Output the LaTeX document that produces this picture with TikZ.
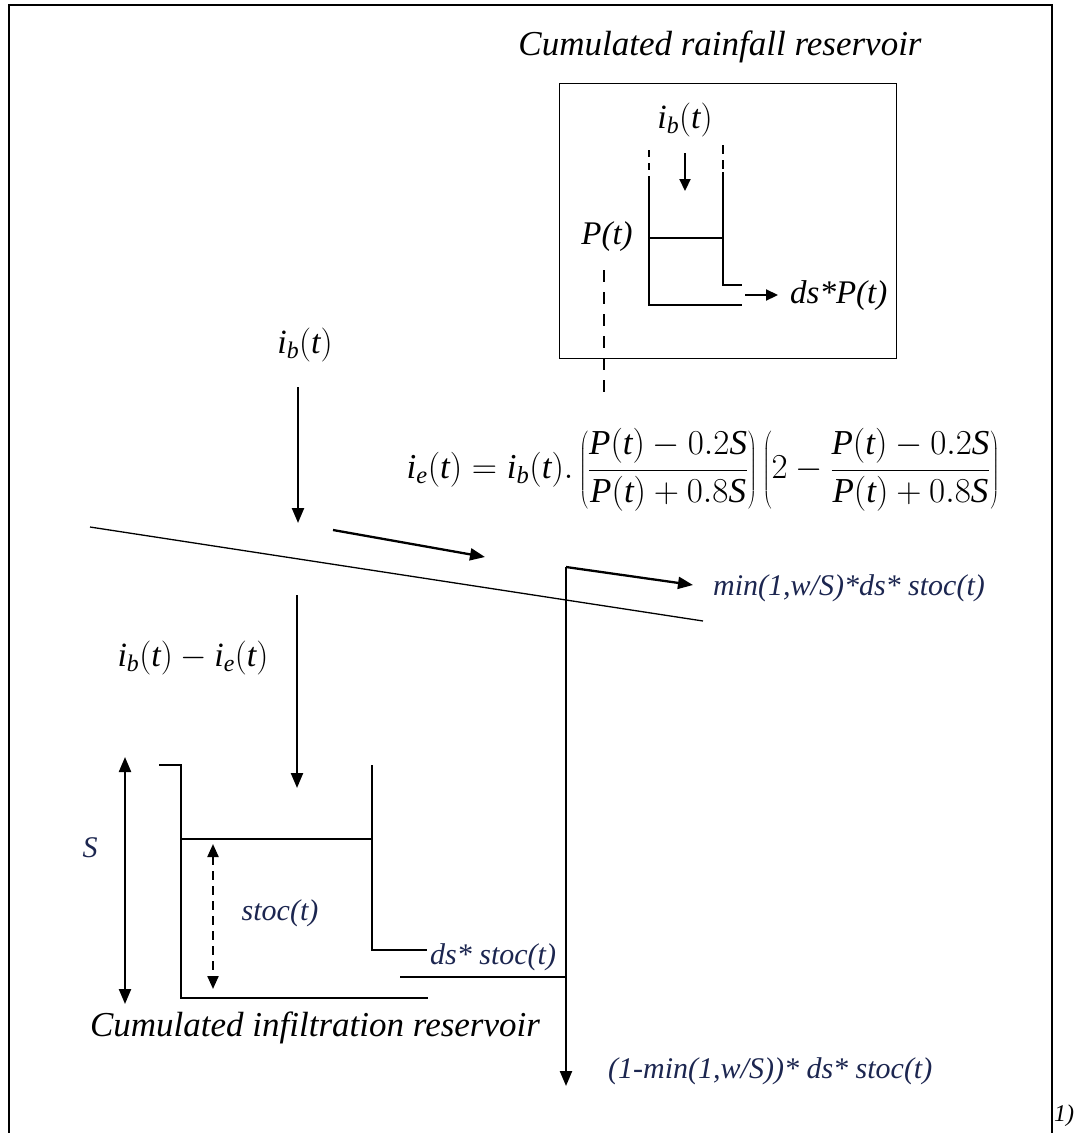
\RequirePackage{fix-cm}
\documentclass[tikz,border=0pt]{standalone}
\usepackage{fontspec}
\setmainfont{Liberation Serif}[ItalicFont={Liberation Serif Italic}]
\usetikzlibrary{arrows.meta}
\definecolor{navy}{RGB}{28,38,80}
\newcommand\vi[1]{\mathit{#1}}
\tikzset{
  thinl/.style={line width=1.4pt},
  flow/.style={line width=2.3pt,-{Triangle[length=15pt,width=12pt]}},
  smallflow/.style={line width=2.2pt,-{Triangle[length=12pt,width=11pt]}},
  twoway/.style={line width=2.2pt,{Triangle[length=15pt,width=12pt]}-{Triangle[length=15pt,width=12pt]}},
  dashtwoway/.style={line width=2.2pt,dash pattern=on 9pt off 6pt,{Triangle[length=13pt,width=11pt]}-{Triangle[length=13pt,width=11pt]}},
  title/.style={font=\fontsize{35}{40}\selectfont\itshape, inner sep=0pt},
  mathlbl/.style={font=\fontsize{34}{38}\selectfont, inner sep=0pt},
  formulafont/.style={font=\fontsize{35}{42}\selectfont, inner sep=0pt},
  lbl/.style={font=\fontsize{30}{34}\selectfont\itshape, text=navy, inner sep=0pt},
  blbl/.style={font=\fontsize{33}{38}\selectfont\itshape, inner sep=0pt},
}
\begin{document}
\begin{tikzpicture}[x=1pt,y=-1pt]
\useasboundingbox (0,0) rectangle (1075,1133);
% outer frame
\draw[line width=2pt] (9,1133) -- (9,5) -- (1052,5) -- (1052,1133);
\node[font=\fontsize{24}{28}\selectfont\itshape, inner sep=0pt, anchor=west] (num) at (1054,1116) {1)};

% rainfall reservoir
\node[title] (t1) at (720,47) {Cumulated rainfall reservoir};
\node[draw, thinl, minimum width=337pt, minimum height=275pt, inner sep=0pt, anchor=north west] (rainbox) at (559,83) {};
\node[mathlbl] (ibr) at (685,120) {$\vi{i}_{\vi{b}}(\vi{t})$};
\coordinate (rl0) at (649,150); \coordinate (rl1) at (649,177); \coordinate (rl2) at (649,305);
\coordinate (rr0) at (723,145); \coordinate (rr1) at (723,172); \coordinate (rr2) at (723,285);
\coordinate (rout) at (742,285); \coordinate (rbot) at (742,305);
\draw[thinl, dash pattern=on 7pt off 6pt] (rl0) -- (rl1);
\draw[thinl, dash pattern=on 9pt off 6pt] (rr0) -- (rr1);
\draw[thinl] (rl1) -- (rl2) -- (rbot);
\draw[thinl] (rr1) -- (rr2) -- (rout);
\draw[thinl] (649,238) -- (723,238);
\coordinate (ra0) at (685,153); \coordinate (ra1) at (685,191);
\draw[smallflow] (ra0) -- (ra1);
\coordinate (rs0) at (745,295);
\node[blbl, anchor=west] (dsP) at (790,296) {ds*P(t)};
\draw[smallflow] (rs0) -- ++(33,0);
\node[blbl] (Pt) at (607,237) {P(t)};
\coordinate (pd0) at (604,270); \coordinate (pd1) at (604,392);
\draw[thinl, dash pattern=on 12pt off 10pt] (pd0) -- (pd1);

% rainfall input
\node[mathlbl] (ib) at (305,345) {$\vi{i}_{\vi{b}}(\vi{t})$};
\coordinate (a0) at (298,387); \coordinate (a1) at (298,523);
\draw[flow] (a0) -- (a1);

% formula
\node[formulafont] (formula) at (703,470) {$\displaystyle \vi{i}_{\vi{e}}(\vi{t}) = \vi{i}_{\vi{b}}(\vi{t}).\left(\frac{\vi{P}(\vi{t})-0.2\vi{S}}{\vi{P}(\vi{t})+0.8\vi{S}}\right)\left(2-\frac{\vi{P}(\vi{t})-0.2\vi{S}}{\vi{P}(\vi{t})+0.8\vi{S}}\right)$};

% ground surface
\coordinate (g0) at (90,527); \coordinate (g1) at (703,621);
\draw[line width=1.3pt] (g0) -- (g1);
\coordinate (r0) at (333,530); \coordinate (r1) at (485,557);
\draw[flow] (r0) -- (r1);

% runoff from infiltration store
\coordinate (corner) at (566,567);
\node[lbl, anchor=west] (minlbl) at (713,588) {min(1,w/S)*ds* stoc(t)};
\coordinate (m1) at (693,585);
\draw[flow] (corner) -- (m1);
\coordinate (down) at (566,1086);
\draw[flow] (corner) -- (down);
\node[lbl, anchor=west] (minlbl2) at (608,1071) {(1-min(1,w/S))* ds* stoc(t)};
\coordinate (h0) at (400,977); \coordinate (h1) at (566,977);
\draw[thinl] (h0) -- (h1);

% infiltration
\node[mathlbl] (ibe) at (193,658) {$\vi{i}_{\vi{b}}(\vi{t})-\vi{i}_{\vi{e}}(\vi{t})$};
\coordinate (b0) at (297,595); \coordinate (b1) at (297,788);
\draw[flow] (b0) -- (b1);

% infiltration reservoir
\coordinate (s0) at (125,757); \coordinate (s1) at (125,1004);
\draw[twoway] (s0) -- (s1);
\node[lbl] (S) at (90,848) {S};
\draw[thinl] (159,765) -- (181,765) -- (181,998) -- (428,998);
\draw[thinl] (181,839) -- (372,839);
\draw[thinl] (372,765) -- (372,950) -- (427,950);
\coordinate (d0) at (213,844); \coordinate (d1) at (213,989);
\draw[dashtwoway] (d0) -- (d1);
\node[lbl] (stoc) at (280,913) {stoc(t)};
\node[lbl, anchor=west] (dsstoc) at (430,957) {ds* stoc(t)};
\node[title] (t2) at (315,1028) {Cumulated infiltration reservoir};
\end{tikzpicture}
\end{document}
